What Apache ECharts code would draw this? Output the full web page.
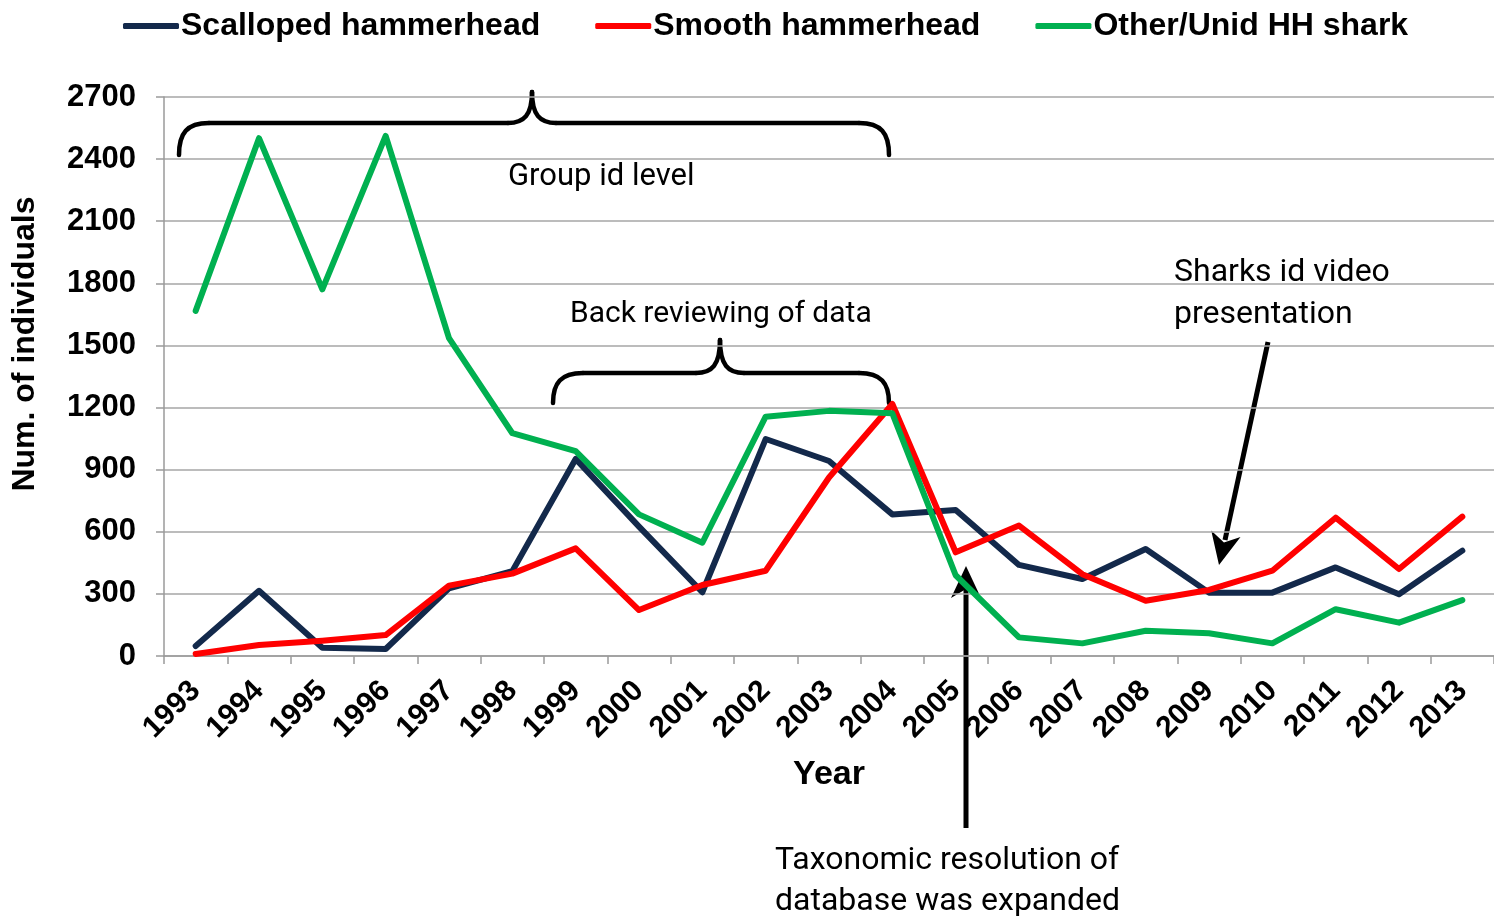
<!DOCTYPE html>
<html>
<head>
<meta charset="utf-8">
<title>Hammerhead sharks</title>
<script src="https://cdn.jsdelivr.net/npm/echarts@6/dist/echarts.min.js"></script>
<style>
  html, body { margin: 0; padding: 0; background: #fff; }
  #chart { width: 1494px; height: 917px; }
</style>
</head>
<body>
<div id="chart"></div>
<script>
const years = ['1993','1994','1995','1996','1997','1998','1999','2000','2001','2002','2003',
  '2004','2005','2006','2007','2008','2009','2010','2011','2012','2013'];
const scalloped = [48, 315, 40, 34, 327, 410, 952, 625, 308, 1048, 942,
  684, 705, 440, 372, 517, 306, 306, 428, 298, 509];
const smooth = [10, 53, 74, 101, 340, 398, 520, 222, 343, 412, 862,
  1217, 501, 630, 395, 267, 319, 412, 668, 420, 673];
const otherHH = [1667, 2501, 1771, 2512, 1535, 1076, 990, 684, 547, 1156, 1184,
  1172, 390, 90, 61, 122, 110, 61, 226, 161, 270];
const yTicks = { min: 0, max: 2700, step: 300 };

const lineFont = 'Liberation Sans, Arial, sans-serif';
const noteFont = 'Roboto, sans-serif';
const penStyle = { stroke: '#000', lineWidth: 4.5, fill: null, lineCap: 'round' };

// arrow head from start point to tip
const arrowHead = (x0, y0, x1, y1) => {
  const dx = x1 - x0, dy = y1 - y0;
  const len = Math.sqrt(dx * dx + dy * dy);
  const ux = dx / len, uy = dy / len;
  const px = -uy, py = ux;
  const bx = x1 - 32 * ux, by = y1 - 32 * uy;
  return [
    [x1, y1],
    [bx + 15 * px, by + 15 * py],
    [x1 - 23 * ux, y1 - 23 * uy],
    [bx - 15 * px, by - 15 * py]
  ];
};

// curly brace made of curves and lines
const brace = (left, right, base, bar, peakX, peakY) => {
  const curve = (x1, y1, cx1, cy1, cx2, cy2, x2, y2) => ({
    type: 'bezierCurve',
    shape: { x1: x1, y1: y1, cpx1: cx1, cpy1: cy1, cpx2: cx2, cpy2: cy2, x2: x2, y2: y2 },
    style: penStyle
  });
  const seg = (x1, x2) => ({ type: 'line', shape: { x1: x1, y1: bar, x2: x2, y2: bar }, style: penStyle });
  return {
    type: 'group',
    children: [
      curve(left, base, left, bar + 10, left + 8, bar, left + 30, bar),
      seg(left + 30, peakX - 24),
      curve(peakX - 24, bar, peakX - 8, bar, peakX, bar - 8, peakX, peakY),
      curve(peakX, peakY, peakX, bar - 8, peakX + 8, bar, peakX + 24, bar),
      seg(peakX + 24, right - 30),
      curve(right - 30, bar, right - 8, bar, right, bar + 10, right, base)
    ]
  };
};

const noteText = (text, x, y, size) => ({
  type: 'text', x: x, y: y,
  style: { text: text, fill: '#000', font: size + 'px ' + noteFont, verticalAlign: 'middle' }
});

const chart = echarts.init(document.getElementById('chart'), null, { renderer: 'canvas' });

const option = {
  backgroundColor: '#fff',
  animation: false,
  color: ['#13294B', '#FF0000', '#00B050'],
  legend: {
    left: 118, top: 5,
    icon: 'roundRect',
    itemWidth: 56, itemHeight: 6,
    itemGap: 55,
    textStyle: { fontSize: 32, fontWeight: 'bold', color: '#000', fontFamily: lineFont, padding: [0, 0, 0, -3] }
  },
  grid: { left: 164, width: 1337, top: 97, bottom: 261, containLabel: false },
  xAxis: {
    type: 'category',
    data: years,
    boundaryGap: true,
    name: 'Year',
    nameLocation: 'middle',
    nameGap: 102,
    nameTextStyle: { fontSize: 34, fontWeight: 'bold', color: '#000', fontFamily: lineFont },
    axisLine: { lineStyle: { color: '#9A9A9A', width: 1.5 } },
    axisTick: { show: true, interval: 0, length: 8, lineStyle: { color: '#9A9A9A', width: 1.5 } },
    axisLabel: { interval: 0, rotate: 45, margin: 30, fontSize: 30, fontWeight: 'bold', color: '#000', fontFamily: lineFont },
    splitLine: { show: false }
  },
  yAxis: {
    type: 'value',
    min: yTicks.min, max: yTicks.max, interval: yTicks.step,
    axisLine: { show: true, lineStyle: { color: '#9A9A9A', width: 1.5 } },
    axisTick: { show: true, length: 8, lineStyle: { color: '#9A9A9A', width: 1.5 } },
    axisLabel: { margin: 28, fontSize: 31, fontWeight: 'bold', color: '#000', fontFamily: lineFont,
      formatter: (v) => String(v) },
    splitLine: { lineStyle: { color: '#A6A6A6', width: 1.5 } }
  },
  series: [
    { name: 'Scalloped hammerhead', type: 'line', data: scalloped, showSymbol: false, symbol: 'none',
      lineStyle: { width: 6, cap: 'round', join: 'round' } },
    { name: 'Smooth hammerhead', type: 'line', data: smooth, showSymbol: false, symbol: 'none',
      lineStyle: { width: 6, cap: 'round', join: 'round' } },
    { name: 'Other/Unid HH shark', type: 'line', data: otherHH, showSymbol: false, symbol: 'none',
      lineStyle: { width: 6, cap: 'round', join: 'round' } }
  ],
  graphic: [
    {
      type: 'text', x: 25, y: 344, rotation: Math.PI / 2,
      style: { text: 'Num. of individuals', fill: '#000', font: 'bold 32px ' + lineFont, align: 'center', verticalAlign: 'middle' }
    },
    brace(179, 889, 155, 123, 532, 92),
    brace(553, 889, 403, 373, 720, 340),
    noteText('Group id level', 508, 177, 31),
    noteText('Back reviewing of data', 570, 314, 30),
    noteText('Sharks id video', 1174, 273, 32),
    noteText('presentation', 1174, 315, 32),
    noteText('Taxonomic resolution of', 775, 861, 32),
    noteText('database was expanded', 775, 902, 32),
    { type: 'line', shape: { x1: 1268, y1: 342, x2: 1225, y2: 540 }, style: { stroke: '#000', lineWidth: 5 } },
    { type: 'polygon', shape: { points: arrowHead(1268, 342, 1219, 565) }, style: { fill: '#000' } },
    { type: 'line', shape: { x1: 966, y1: 828, x2: 966, y2: 588 }, style: { stroke: '#000', lineWidth: 5 } },
    { type: 'polygon', shape: { points: arrowHead(966, 828, 966, 566) }, style: { fill: '#000' } }
  ]
};

chart.setOption(option);
</script>
</body>
</html>
